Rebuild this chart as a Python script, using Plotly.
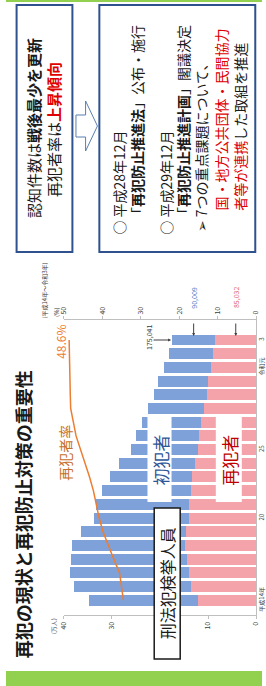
import plotly.graph_objects as go

W, H = 266, 686
FONT = "Noto Sans CJK JP"

# ---------------- data ----------------
years = ["H14", "H15", "H16", "H17", "H18", "H19", "H20", "H21", "H22", "H23",
         "H24", "H25", "H26", "H27", "H28", "H29", "H30", "R1", "R2", "R3"]
year_tick_vals = ["H14", "H20", "H25", "R1", "R3"]
year_tick_text = ["平成14年", "20", "25", "令和元", "3"]

# 初犯者 (persons)
first_offenders = [226000, 244000, 248000, 242000, 234000, 220000, 198000, 192000,
                   185000, 170000, 158000, 139000, 132000, 123000, 116000, 110000,
                   105000, 98000, 92000, 90009]
# 再犯者 (persons)
repeat_offenders = [121000, 135000, 140000, 143000, 148000, 145000, 140000, 140000,
                    136000, 133000, 128000, 122000, 118000, 115000, 109000, 103000,
                    100000, 93000, 89000, 85032]
# 再犯者率 (%)
repeat_rate = [34.5, 35.0, 35.5, 37.0, 38.5, 39.8, 40.8, 41.5, 42.3, 43.3,
               44.5, 45.5, 46.8, 47.5, 48.2, 48.3, 48.4, 48.5, 48.5, 48.6]

count_ticks = [0, 10, 20, 30, 40]
rate_ticks = [0, 10, 20, 30, 40, 50]

first_man = [v / 10000 for v in first_offenders]
repeat_man = [v / 10000 for v in repeat_offenders]
total_last = first_offenders[-1] + repeat_offenders[-1]


def PX(x):
    return x / W


def PY(y):
    return 1 - y / H


fig = go.Figure()
fig.add_trace(go.Bar(y=years, x=repeat_man, orientation="h", name="再犯者",
                     marker=dict(color="#F4A3AB", line=dict(width=0)),
                     hoverinfo="skip"))
fig.add_trace(go.Bar(y=years, x=first_man, orientation="h", name="初犯者",
                     marker=dict(color="#7FA1DA", line=dict(width=0)),
                     hoverinfo="skip"))
fig.add_trace(go.Scatter(y=years, x=repeat_rate, xaxis="x2", mode="lines",
                         line=dict(color="#ED7D31", width=1.5), hoverinfo="skip"))

axis_font = dict(family=FONT, size=7, color="#404040")
fig.update_layout(
    width=W, height=H,
    margin=dict(l=0, r=0, t=0, b=0),
    paper_bgcolor="white", plot_bgcolor="white",
    showlegend=False, barmode="stack", bargap=0.2,
    xaxis=dict(domain=[PX(60), PX(260)], range=[40, 0], tickvals=count_ticks,
               tickangle=-90, tickfont=axis_font, showline=True, linecolor="#BFBFBF",
               linewidth=1, ticks="outside", ticklen=3, tickcolor="#BFBFBF",
               showgrid=False, zeroline=False, fixedrange=True),
    xaxis2=dict(overlaying="x", side="top", anchor="y", range=[50, 0],
                tickvals=rate_ticks, tickangle=-90, tickfont=axis_font,
                showline=True, linecolor="#BFBFBF", linewidth=1, ticks="outside",
                ticklen=3, tickcolor="#BFBFBF", showgrid=False, zeroline=False),
    yaxis=dict(domain=[PY(615), PY(320)], side="right", showline=True,
               linecolor="#BFBFBF", linewidth=1, tickvals=year_tick_vals,
               ticktext=year_tick_text, tickangle=-90,
               tickfont=dict(family=FONT, size=6, color="#404040"),
               ticks="", showgrid=False, zeroline=False),
)

shapes = []
# green bands
shapes.append(dict(type="rect", xref="paper", yref="paper", x0=0, x1=1,
                   y0=PY(0), y1=PY(2), fillcolor="#92D050", line=dict(width=0)))
shapes.append(dict(type="rect", xref="paper", yref="paper", x0=0, x1=1,
                   y0=PY(671), y1=PY(686), fillcolor="#92D050", line=dict(width=0)))
# top boxes
shapes.append(dict(type="rect", xref="paper", yref="paper", x0=PX(11), x1=PX(69),
                   y0=PY(252), y1=PY(5), fillcolor="white",
                   line=dict(color="#2F528F", width=2)))
shapes.append(dict(type="rect", xref="paper", yref="paper", x0=PX(97), x1=PX(259),
                   y0=PY(252), y1=PY(5), fillcolor="white",
                   line=dict(color="#2F528F", width=2)))
# block arrow
pts = [(72.7, 115), (82.7, 115), (82.7, 101), (95, 126), (82.7, 151), (82.7, 137), (72.7, 137)]
path = "M " + " L ".join(f"{PX(x):.5f},{PY(y):.5f}" for x, y in pts) + " Z"
shapes.append(dict(type="path", xref="paper", yref="paper", path=path,
                   fillcolor="white", line=dict(color="#5B7DB1", width=1)))
# label boxes in chart
shapes.append(dict(type="rect", xref="paper", yref="paper", x0=PX(147), x1=PX(172),
                   y0=PY(502), y1=PY(417), fillcolor="white", line=dict(width=0)))
shapes.append(dict(type="rect", xref="paper", yref="paper", x0=PX(218), x1=PX(245),
                   y0=PY(502), y1=PY(417), fillcolor="white", line=dict(width=0)))
shapes.append(dict(type="rect", xref="paper", yref="paper", x0=PX(154), x1=PX(181),
                   y0=PY(659), y1=PY(508), fillcolor="white",
                   line=dict(color="#1a1a1a", width=1.5)))
fig.update_layout(shapes=shapes)

anns = []


def ann(x, y, text, size, color="#1a1a1a", xanchor="center", yanchor="middle"):
    anns.append(dict(xref="paper", yref="paper", x=PX(x), y=PY(y), text=text,
                     showarrow=False, textangle=-90, xanchor=xanchor, yanchor=yanchor,
                     font=dict(family=FONT, size=size, color=color)))


RED = "#E00000"
# box 1
ann(29, 128, "認知件数は<b>戦後最少を更新</b>", 15)
ann(50, 130, f"再犯者率は<b><span style='color:{RED}'>上昇傾向</span></b>", 15)
# box 2
ann(117, 237, "○ 平成28年12月", 14, yanchor="bottom")
ann(136, 223, "「<b>再犯防止推進法</b>」公布・施行", 14, yanchor="bottom")
ann(166, 237, "○ 平成29年12月", 14, yanchor="bottom")
ann(184, 223, "「<b>再犯防止推進計画</b>」閣議決定", 14, yanchor="bottom")
ann(203, 234, "➢ 7つの重点課題について、", 14, yanchor="bottom")
ann(223, 213, f"<span style='color:{RED}'>国・地方公共団体・民間協力</span>", 14,
    yanchor="bottom")
ann(243, 213, f"<span style='color:{RED}'>者等が連携</span>した取組を推進", 14,
    yanchor="bottom")
# title
ann(18, 514, "<b>再犯の現状と再犯防止対策の重要性</b>", 18, color="#1a1a1a")
# chart labels
ann(40, 290, "(平成14年～令和3年)", 6, color="#404040")
ann(52, 312, "(%)", 6, color="#404040")
ann(49, 626, "(万人)", 6, color="#404040")
ann(57, 342, f"{repeat_rate[-1]}%", 12, color="#ED7D31")
ann(61, 453, "再犯者率", 14, color="#C8702A")
ann(159.5, 460, "初犯者", 17, color="#2F5597")
ann(231.5, 460, "再犯者", 17, color="#C00000")
ann(167.5, 583, "刑法犯検挙人員", 16, color="#1a1a1a")
ann(148.5, 337, f"{total_last:,}", 7, color="#404040")
ann(195, 298, f"{first_offenders[-1]:,}", 7, color="#4472C4")
ann(239, 298, f"{repeat_offenders[-1]:,}", 7, color="#E06070")

# arrows
anns.append(dict(x=total_last / 10000 + 0.2, y=years[-1], xref="x", yref="y",
                 ax=-19, ay=0, axref="pixel", ayref="pixel", text="", showarrow=True,
                 arrowhead=2, arrowsize=0.6, arrowwidth=1, arrowcolor="#404040"))
for xv in [repeat_man[-1] + first_man[-1] / 2, repeat_man[-1] / 2]:
    anns.append(dict(x=xv, y=years[-1], xref="x", yref="y", yshift=4,
                     ax=0, ay=-14, text="", showarrow=True,
                     arrowhead=2, arrowsize=0.6, arrowwidth=1, arrowcolor="#404040"))

fig.update_layout(annotations=anns)

fig.write_html("out.html", config={"displayModeBar": False},
               post_script="document.body.style.margin='0';")
